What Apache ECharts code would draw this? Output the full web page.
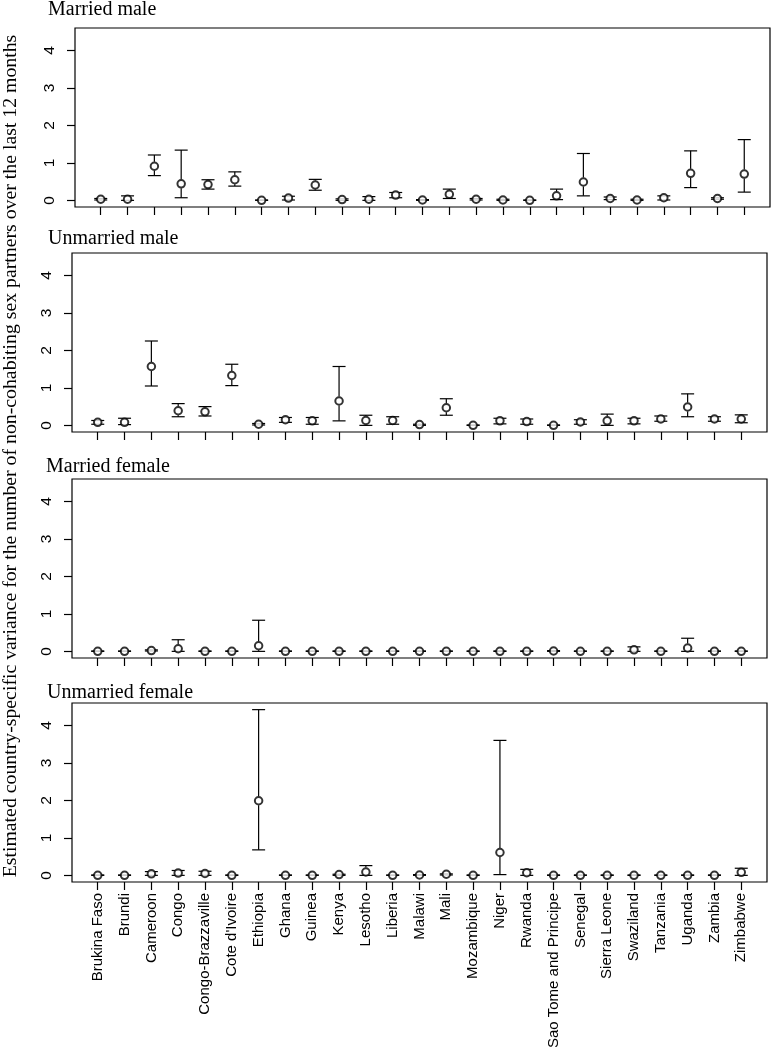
<!DOCTYPE html>
<html>
<head>
<meta charset="utf-8">
<title>Country-specific variance</title>
<script src="https://cdn.jsdelivr.net/npm/echarts@6/dist/echarts.min.js"></script>
<style>
html, body { margin: 0; padding: 0; background: #fff; }
#main { width: 771px; height: 1047px; }
</style>
</head>
<body>
<div id="main"></div>
<script>
// countries on the x axis (same for every panel)
var countries = ['Brukina Faso', 'Brundi', 'Cameroon', 'Congo', 'Congo-Brazzaville', "Cote d'Ivoire",
  'Ethiopia', 'Ghana', 'Guinea', 'Kenya', 'Lesotho', 'Liberia', 'Malawi', 'Mali', 'Mozambique',
  'Niger', 'Rwanda', 'Sao Tome and Principe', 'Senegal', 'Sierra Leone', 'Swaziland', 'Tanzania',
  'Uganda', 'Zambia', 'Zimbabwe'];
var yTicks = [0, 1, 2, 3, 4];
var panelTitles = ['Married male', 'Unmarried male', 'Married female', 'Unmarried female'];
var yTitle = 'Estimated country-specific variance for the number of non-cohabiting sex partners over the last 12 months';

// married male
var mmEst = [0.03, 0.03, 0.91, 0.44, 0.42, 0.55, 0.00, 0.06, 0.41, 0.02, 0.03, 0.14, 0.01, 0.16, 0.03, 0.01, 0.00, 0.12, 0.49, 0.05, 0.01, 0.07, 0.72, 0.05, 0.70];
var mmLo  = [0.01, 0.00, 0.66, 0.07, 0.30, 0.38, 0.00, 0.01, 0.27, 0.00, 0.00, 0.07, 0.00, 0.05, 0.01, 0.00, 0.00, 0.02, 0.12, 0.02, 0.00, 0.01, 0.34, 0.03, 0.22];
var mmHi  = [0.05, 0.12, 1.21, 1.34, 0.55, 0.76, 0.01, 0.11, 0.56, 0.04, 0.10, 0.21, 0.02, 0.30, 0.05, 0.03, 0.01, 0.30, 1.25, 0.09, 0.03, 0.12, 1.32, 0.07, 1.62];
// unmarried male
var umEst = [0.08, 0.08, 1.57, 0.39, 0.36, 1.33, 0.03, 0.15, 0.12, 0.65, 0.13, 0.13, 0.02, 0.47, 0.00, 0.12, 0.10, 0.00, 0.09, 0.12, 0.12, 0.17, 0.49, 0.17, 0.17];
var umLo  = [0.03, 0.02, 1.05, 0.23, 0.25, 1.06, 0.01, 0.08, 0.03, 0.12, 0.00, 0.03, 0.00, 0.27, 0.00, 0.04, 0.03, 0.00, 0.03, 0.00, 0.04, 0.11, 0.23, 0.11, 0.07];
var umHi  = [0.13, 0.19, 2.25, 0.58, 0.50, 1.63, 0.05, 0.21, 0.21, 1.57, 0.27, 0.23, 0.03, 0.71, 0.01, 0.19, 0.17, 0.01, 0.15, 0.30, 0.19, 0.25, 0.84, 0.23, 0.28];
// married female
var mfEst = [0.00, 0.00, 0.02, 0.07, 0.00, 0.00, 0.15, 0.00, 0.00, 0.00, 0.00, 0.00, 0.00, 0.00, 0.00, 0.00, 0.00, 0.01, 0.00, 0.00, 0.04, 0.00, 0.09, 0.00, 0.00];
var mfLo  = [0.00, 0.00, 0.01, 0.00, 0.00, 0.00, 0.00, 0.00, 0.00, 0.00, 0.00, 0.00, 0.00, 0.00, 0.00, 0.00, 0.00, 0.00, 0.00, 0.00, 0.00, 0.00, 0.00, 0.00, 0.00];
var mfHi  = [0.01, 0.01, 0.04, 0.31, 0.01, 0.01, 0.83, 0.01, 0.01, 0.01, 0.01, 0.01, 0.01, 0.01, 0.01, 0.01, 0.01, 0.02, 0.01, 0.01, 0.12, 0.01, 0.35, 0.01, 0.01];
// unmarried female
var ufEst = [0.00, 0.00, 0.04, 0.06, 0.05, 0.00, 1.99, 0.00, 0.00, 0.02, 0.09, 0.00, 0.01, 0.03, 0.00, 0.61, 0.07, 0.00, 0.00, 0.00, 0.00, 0.00, 0.00, 0.00, 0.08];
var ufLo  = [0.00, 0.00, 0.00, 0.00, 0.00, 0.00, 0.68, 0.00, 0.00, 0.00, 0.00, 0.00, 0.00, 0.01, 0.00, 0.02, 0.00, 0.00, 0.00, 0.00, 0.00, 0.00, 0.00, 0.00, 0.00];
var ufHi  = [0.01, 0.01, 0.10, 0.13, 0.11, 0.01, 4.42, 0.01, 0.01, 0.03, 0.26, 0.01, 0.02, 0.04, 0.01, 3.60, 0.16, 0.01, 0.01, 0.01, 0.01, 0.01, 0.01, 0.01, 0.19];

var panels = [
  { est: mmEst, lo: mmLo, hi: mmHi },
  { est: umEst, lo: umLo, hi: umHi },
  { est: mfEst, lo: mfLo, hi: mfHi },
  { est: ufEst, lo: ufLo, hi: ufHi }
];

// layout of the four boxes
var gridLefts = [75, 72, 72, 72];
var gridTops = [28, 253, 479, 703];
var titleLefts = [48, 48, 46, 47];
var titleTops = [0, 229, 457, 683];
var xTickVals = countries.map(function (c, i) { return i + 1; });

var serif = '"Liberation Serif", "Times New Roman", serif';
var sans = '"Liberation Sans", Arial, sans-serif';

// vertical bar with caps, gap around the point (like plotCI)
function renderErr(params, api) {
  var x = api.value(0);
  var pe = api.coord([x, api.value(1)]);
  var lo = api.coord([x, api.value(2)]);
  var hi = api.coord([x, api.value(3)]);
  var w = 6.5, gap = 4.5;
  var st = { stroke: '#000', lineWidth: 1.2 };
  var kids = [
    { type: 'line', shape: { x1: lo[0] - w, y1: lo[1], x2: lo[0] + w, y2: lo[1] }, style: st },
    { type: 'line', shape: { x1: hi[0] - w, y1: hi[1], x2: hi[0] + w, y2: hi[1] }, style: st }
  ];
  if (pe[1] - gap > hi[1]) {
    kids.push({ type: 'line', shape: { x1: pe[0], y1: hi[1], x2: pe[0], y2: pe[1] - gap }, style: st });
  }
  if (pe[1] + gap < lo[1]) {
    kids.push({ type: 'line', shape: { x1: pe[0], y1: pe[1] + gap, x2: pe[0], y2: lo[1] }, style: st });
  }
  return { type: 'group', children: kids };
}

var grids = [], xAxes = [], yAxes = [], series = [], titles = [];
panels.forEach(function (p, i) {
  grids.push({
    left: gridLefts[i], top: gridTops[i], width: 695, height: 179,
    containLabel: false, outerBoundsMode: 'none',
    show: true, borderColor: '#000', borderWidth: 1.2, backgroundColor: 'transparent'
  });
  xAxes.push({
    type: 'value', gridIndex: i, min: 0.04, max: 25.96,
    axisLine: { show: false, onZero: false },
    splitLine: { show: false },
    axisTick: { show: true, customValues: xTickVals, length: 8, lineStyle: { color: '#000', width: 1.2 } },
    axisLabel: {
      show: i === 3, customValues: xTickVals, rotate: 90, margin: 11,
      fontFamily: sans, fontSize: 15, color: '#000',
      formatter: function (v) { return countries[Math.round(v) - 1] || ''; }
    }
  });
  yAxes.push({
    type: 'value', gridIndex: i, min: -0.177, max: 4.597,
    axisLine: { show: false, onZero: false },
    splitLine: { show: false },
    axisTick: { show: true, customValues: yTicks, length: 8, lineStyle: { color: '#000', width: 1.2 } },
    // the sideways numbers are added below from the axis scale
    axisLabel: { show: false }
  });
  var pts = [], bars = [];
  for (var k = 0; k < countries.length; k++) {
    pts.push([k + 1, p.est[k]]);
    bars.push([k + 1, p.est[k], p.lo[k], p.hi[k]]);
  }
  series.push({
    type: 'custom', xAxisIndex: i, yAxisIndex: i, renderItem: renderErr,
    encode: { x: 0, y: 1 }, data: bars, silent: true
  });
  series.push({
    type: 'scatter', xAxisIndex: i, yAxisIndex: i, data: pts,
    symbol: 'emptyCircle', symbolSize: 7.5,
    itemStyle: { color: '#000', borderColor: '#000', borderWidth: 1.1 }
  });
  titles.push({
    text: panelTitles[i], left: titleLefts[i], top: titleTops[i], padding: 0,
    textStyle: { fontFamily: serif, fontWeight: 'normal', fontSize: 20, color: '#000' }
  });
});

var chart = echarts.init(document.getElementById('main'));
chart.setOption({
  animation: false,
  backgroundColor: '#fff',
  title: titles,
  grid: grids,
  xAxis: xAxes,
  yAxis: yAxes,
  series: series
});

// y title plus rotated tick numbers, placed with the y axis scale
var labels = [{
  type: 'text', x: 11, y: 456, rotation: Math.PI / 2,
  style: { text: yTitle, font: '19.8px ' + serif, fill: '#000', align: 'center', verticalAlign: 'middle' }
}];
panels.forEach(function (p, i) {
  yTicks.forEach(function (v) {
    var py = chart.convertToPixel({ yAxisIndex: i }, v);
    labels.push({
      type: 'text', x: gridLefts[i] - 17, y: py, rotation: Math.PI / 2,
      style: { text: String(v), font: '15.5px ' + sans, fill: '#000', align: 'center', verticalAlign: 'bottom' }
    });
  });
});
chart.setOption({ graphic: labels });
</script>
</body>
</html>
